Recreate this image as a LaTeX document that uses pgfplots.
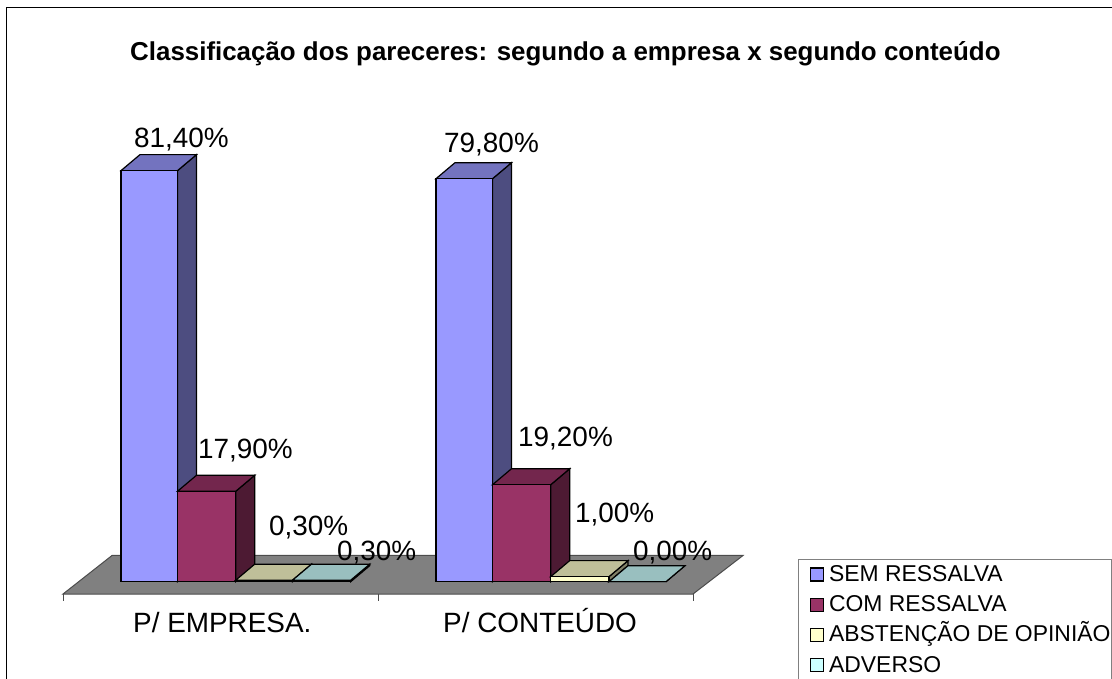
\documentclass[border=0pt]{standalone}
\usepackage{pgfplots}
\pgfplotsset{compat=1.18}
\usepackage{fontspec}
\setmainfont{Liberation Sans}

\definecolor{sem}{HTML}{9999FF}
\definecolor{semside}{HTML}{4D4D80}
\definecolor{semtop}{HTML}{7373BF}
\definecolor{com}{HTML}{993366}
\definecolor{comside}{HTML}{4D1A33}
\definecolor{comtop}{HTML}{73264D}
\definecolor{abs}{HTML}{FFFFCC}
\definecolor{absside}{HTML}{808066}
\definecolor{abstop}{HTML}{BFBF99}
\definecolor{adv}{HTML}{CCFFFF}
\definecolor{advside}{HTML}{668080}
\definecolor{advtop}{HTML}{99BFBF}

% left edge, right edge (px), value (%), colour name
\newcommand{\threebar}[4]{%
  \pgfmathsetmacro{\xl}{#1+19}%
  \pgfmathsetmacro{\xr}{#2+19}%
  \pgfmathsetmacro{\vb}{#3+3.17}%
  \addplot[forget plot,fill=#4side,bar3d] coordinates {(#2,0) (\xr,3.17) (\xr,\vb) (#2,#3)} -- cycle;
  \addplot[forget plot,fill=#4top,bar3d] coordinates {(#1,#3) (\xl,\vb) (\xr,\vb) (#2,#3)} -- cycle;
  \addplot[forget plot,fill=#4,bar3d] coordinates {(#1,0) (#1,#3) (#2,#3) (#2,0)} -- cycle;
}
% text at px position (left, baseline)
\newcommand{\lab}[3]{\node[anchor=base west,inner sep=0pt,font=\fontsize{28}{30}\selectfont] at (axis cs:#1,{(581.7-#2)/5.05}) {#3};}

\begin{document}
\begin{tikzpicture}
\path[use as bounding box] (0,0) rectangle (1112bp,679bp);
\begin{axis}[
    at={(0,0)},anchor=south west,
    scale only axis,
    width=1112bp,height=679bp,
    xmin=0,xmax=1112,
    ymin=-19.267,ymax=115.188,
    hide axis,
    clip=false,
    bar3d/.style={draw=black,line width=1.2bp,mark=none,line join=miter},
    legend style={
        at={(axis cs:798,4.5)},anchor=north west,
        draw=gray,line width=1bp,fill=white,
        font=\fontsize{23}{24}\selectfont,
        inner xsep=11bp,inner ysep=5bp,
        row sep=8.2bp,
        nodes={inner sep=0pt,text height=17bp,text depth=5bp},
        legend cell align=left,
    },
    legend image code/.code={
        \draw[draw=none,fill=none] (0,0) -- (19bp,0);
        \draw[#1,draw=black,line width=1.2bp] (0,-5.5bp) rectangle (13bp,7.5bp);},
]
% outer frame
\addplot[forget plot,draw=black,line width=1.6bp,mark=none] coordinates {(6.5,-19.267) (6.5,113.7) (1113,113.7)};
% floor
\addplot[forget plot,fill=gray,draw=black!70,line width=1bp,mark=none] coordinates {(63,-2.44) (112,5.19) (743,5.19) (693,-2.44)} -- cycle;
\addplot[forget plot,draw=black!70,line width=1bp,mark=none] coordinates {(63,-2.44) (63,-3.83)};
\addplot[forget plot,draw=black!70,line width=1bp,mark=none] coordinates {(378,-2.44) (378,-3.83)};
\addplot[forget plot,draw=black!70,line width=1bp,mark=none] coordinates {(693,-2.44) (693,-3.83)};

\threebar{121}{177.5}{81.4}{sem}
\threebar{177.5}{235.7}{17.9}{com}
\threebar{235.7}{292.5}{0.3}{abs}
\threebar{292.5}{350.7}{0.3}{adv}

\threebar{436}{492.5}{79.8}{sem}
\threebar{492.5}{550.7}{19.2}{com}
\threebar{550.7}{609}{1.0}{abs}
\threebar{609}{666}{0.0}{adv}

\addlegendimage{fill=sem}\addlegendentry{SEM RESSALVA}
\addlegendimage{fill=com}\addlegendentry{COM RESSALVA}
\addlegendimage{fill=abs}\addlegendentry{ABSTENÇÃO DE OPINIÃO}
\addlegendimage{fill=adv}\addlegendentry{ADVERSO}

\lab{134}{148}{81,40\%}
\lab{198}{459}{17,90\%}
\lab{269}{535}{0,30\%}
\lab{337}{561}{0,30\%}
\lab{444}{153}{79,80\%}
\lab{518}{446}{19,20\%}
\lab{575}{523}{1,00\%}
\lab{633}{560}{0,00\%}
\lab{133}{632}{P/ EMPRESA.}
\lab{443}{632}{P/ CONTEÚDO}
\node[anchor=base west,inner sep=0pt,font=\fontsize{26}{28}\selectfont\bfseries] at (axis cs:130,{(581.7-61)/5.05}) {Classificação dos pareceres: segundo a empresa x segundo conteúdo};
\end{axis}
% legend's right edge
\draw[gray,line width=1bp] (1111.3bp,0) -- (1111.3bp,120bp);
\end{tikzpicture}
\end{document}
